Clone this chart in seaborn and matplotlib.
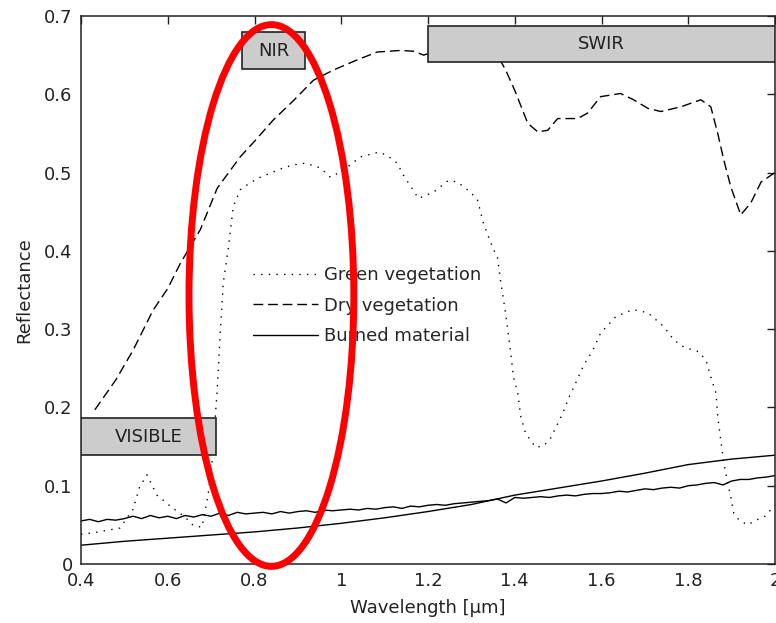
import numpy as np
import pandas as pd
import matplotlib
matplotlib.use("Agg")
import matplotlib.pyplot as plt
from matplotlib.patches import Rectangle, Ellipse
import seaborn as sns

# ---- spectral data (wavelength in micrometres, reflectance 0-1) ----
green_wl = [0.40, 0.43, 0.46, 0.49, 0.52, 0.535, 0.552, 0.575, 0.61, 0.64, 0.659, 0.679,
            0.693, 0.702, 0.714, 0.721, 0.728, 0.74, 0.751, 0.767, 0.79, 0.813, 0.84,
            0.866, 0.892, 0.917, 0.952, 0.975, 1.005, 1.044, 1.086, 1.106, 1.129, 1.143,
            1.178, 1.213, 1.247, 1.268, 1.298, 1.314, 1.328, 1.349, 1.36, 1.367, 1.379,
            1.39, 1.397, 1.407, 1.414, 1.425, 1.448, 1.467, 1.483, 1.511, 1.525, 1.541,
            1.559, 1.58, 1.598, 1.633, 1.672, 1.707, 1.744, 1.767, 1.79, 1.825, 1.841,
            1.852, 1.864, 1.868, 1.875, 1.882, 1.891, 1.898, 1.905, 1.917, 1.937, 1.956,
            1.975, 2.00]
green_refl = [0.038, 0.040, 0.043, 0.046, 0.070, 0.098, 0.114, 0.088, 0.072, 0.060, 0.049,
              0.047, 0.088, 0.129, 0.222, 0.295, 0.359, 0.405, 0.456, 0.478, 0.487, 0.494,
              0.500, 0.506, 0.510, 0.512, 0.506, 0.494, 0.503, 0.520, 0.526, 0.522, 0.512,
              0.497, 0.467, 0.475, 0.490, 0.488, 0.475, 0.465, 0.435, 0.404, 0.392, 0.363,
              0.320, 0.273, 0.239, 0.218, 0.188, 0.167, 0.149, 0.151, 0.161, 0.193, 0.213,
              0.232, 0.254, 0.273, 0.295, 0.316, 0.325, 0.321, 0.303, 0.286, 0.277, 0.271,
              0.260, 0.239, 0.218, 0.188, 0.158, 0.129, 0.103, 0.086, 0.065, 0.056, 0.050,
              0.056, 0.060, 0.075]

dry_wl = [0.432, 0.48, 0.52, 0.566, 0.60, 0.629, 0.675, 0.714, 0.767, 0.80, 0.843, 0.89,
          0.936, 0.982, 1.037, 1.083, 1.137, 1.167, 1.19, 1.25, 1.32, 1.36, 1.379, 1.40,
          1.43, 1.453, 1.476, 1.499, 1.545, 1.568, 1.598, 1.644, 1.674, 1.707, 1.737,
          1.783, 1.829, 1.852, 1.868, 1.882, 1.898, 1.921, 1.944, 1.968, 2.00]
dry_refl = [0.197, 0.235, 0.273, 0.324, 0.352, 0.384, 0.427, 0.480, 0.520, 0.540, 0.567,
            0.592, 0.618, 0.631, 0.644, 0.654, 0.656, 0.655, 0.650, 0.662, 0.662, 0.650,
            0.631, 0.605, 0.563, 0.552, 0.554, 0.569, 0.569, 0.576, 0.597, 0.601, 0.593,
            0.582, 0.578, 0.584, 0.593, 0.584, 0.550, 0.516, 0.482, 0.446, 0.461, 0.488,
            0.500]

burned_wl = [0.40, 0.42, 0.44, 0.46, 0.48, 0.50, 0.52, 0.54, 0.56, 0.58, 0.60, 0.62, 0.64,
             0.66, 0.68, 0.70, 0.72, 0.74, 0.76, 0.78, 0.80, 0.82, 0.84, 0.86, 0.88, 0.90,
             0.92, 0.94, 0.96, 0.98, 1.00, 1.02, 1.04, 1.06, 1.08, 1.10, 1.12, 1.14, 1.16,
             1.18, 1.20, 1.22, 1.24, 1.26, 1.28, 1.30, 1.32, 1.34, 1.36, 1.38, 1.40, 1.42,
             1.44, 1.46, 1.48, 1.50, 1.52, 1.54, 1.56, 1.58, 1.60, 1.62, 1.64, 1.66, 1.68,
             1.70, 1.72, 1.74, 1.76, 1.78, 1.80, 1.82, 1.84, 1.86, 1.88, 1.90, 1.92, 1.94,
             1.96, 1.98, 2.00]
burned_refl = [0.055, 0.057, 0.054, 0.057, 0.056, 0.058, 0.061, 0.058, 0.062, 0.059, 0.061,
               0.058, 0.062, 0.060, 0.063, 0.061, 0.065, 0.062, 0.066, 0.064, 0.065, 0.066,
               0.064, 0.067, 0.065, 0.067, 0.068, 0.066, 0.069, 0.068, 0.069, 0.070, 0.069,
               0.071, 0.070, 0.072, 0.073, 0.071, 0.074, 0.073, 0.075, 0.076, 0.075, 0.077,
               0.078, 0.079, 0.080, 0.081, 0.083, 0.078, 0.085, 0.084, 0.085, 0.086, 0.085,
               0.087, 0.088, 0.087, 0.089, 0.090, 0.090, 0.091, 0.093, 0.092, 0.094, 0.096,
               0.095, 0.097, 0.098, 0.097, 0.100, 0.101, 0.103, 0.104, 0.101, 0.106, 0.108,
               0.108, 0.110, 0.111, 0.113]

char_wl = [0.40, 0.50, 0.60, 0.70, 0.80, 0.90, 1.00, 1.10, 1.20, 1.30, 1.40, 1.50, 1.60,
           1.70, 1.80, 1.90, 2.00]
char_refl = [0.024, 0.029, 0.033, 0.037, 0.041, 0.046, 0.052, 0.059, 0.067, 0.076, 0.088,
             0.097, 0.106, 0.116, 0.127, 0.134, 0.139]

series_labels = ["Green vegetation", "Dry vegetation", "Burned material"]

# spectral regions
band_names = ["VISIBLE", "NIR", "SWIR"]
band_x = [(0.40, 0.712), (0.772, 0.917), (1.201, 2.00)]
band_y = [(0.139, 0.186), (0.632, 0.679), (0.641, 0.687)]

x_ticks = [0.4, 0.6, 0.8, 1.0, 1.2, 1.4, 1.6, 1.8, 2.0]
x_ticklabels = ["0.4", "0.6", "0.8", "1", "1.2", "1.4", "1.6", "1.8", "2"]
y_ticks = [0, 0.1, 0.2, 0.3, 0.4, 0.5, 0.6, 0.7]
y_ticklabels = ["0", "0.1", "0.2", "0.3", "0.4", "0.5", "0.6", "0.7"]

# ---- styling ----
sns.set_theme(style="white")
plt.rcParams["font.family"] = ["DejaVu Sans"]
plt.rcParams.update({
    "xtick.direction": "in", "ytick.direction": "in",
    "xtick.top": True, "ytick.right": True,
    "xtick.major.size": 5.5, "ytick.major.size": 5.5,
    "xtick.major.width": 1.0, "ytick.major.width": 1.0,
    "axes.edgecolor": "#222222", "axes.linewidth": 1.1,
})

fig = plt.figure(figsize=(7.76, 6.23), dpi=100)
ax = fig.add_axes([81 / 776, 59 / 623, 694 / 776, 548 / 623])

fs = 13
common = dict(ax=ax, color="black", estimator=None, sort=False, linewidth=1.0)

g = pd.DataFrame({"wl": green_wl, "refl": green_refl})
d = pd.DataFrame({"wl": dry_wl, "refl": dry_refl})
b = pd.DataFrame({"wl": burned_wl, "refl": burned_refl})
c = pd.DataFrame({"wl": char_wl, "refl": char_refl})

sns.lineplot(data=g, x="wl", y="refl", linestyle=(0, (1, 4.5)), label=series_labels[0], **common)
sns.lineplot(data=d, x="wl", y="refl", linestyle=(0, (7, 3.5)), label=series_labels[1], **common)
sns.lineplot(data=b, x="wl", y="refl", linestyle="-", label=series_labels[2], **common)
sns.lineplot(data=c, x="wl", y="refl", linestyle="-", **common)

# region boxes
for name, (x0, x1), (y0, y1) in zip(band_names, band_x, band_y):
    ax.add_patch(Rectangle((x0, y0), x1 - x0, y1 - y0, facecolor="#cccccc",
                           edgecolor="#222222", linewidth=1.2, zorder=5))
    ax.text((x0 + x1) / 2, (y0 + y1) / 2, name, ha="center", va="center",
            fontsize=fs, color="#222222", zorder=6)

# highlight of the near-infrared plateau
ax.add_patch(Ellipse((0.839, 0.343), 0.380, 0.692, fill=False, edgecolor="#ff0000",
                     linewidth=5, zorder=10, clip_on=False))

ax.set_xlim(0.4, 2.0)
ax.set_ylim(0, 0.7)
ax.set_xticks(x_ticks)
ax.set_xticklabels(x_ticklabels, fontsize=fs, color="#222222")
ax.set_yticks(y_ticks)
ax.set_yticklabels(y_ticklabels, fontsize=fs, color="#222222")
ax.tick_params(axis="x", pad=6, colors="#222222")
ax.tick_params(axis="y", pad=6, colors="#222222")
ax.set_xlabel("Wavelength [\u00b5m]", fontsize=fs, color="#222222", labelpad=6)
ax.set_ylabel("Reflectance", fontsize=fs, color="#222222", labelpad=8)

ax.legend(loc="upper left", bbox_to_anchor=(0.248, 0.543), frameon=False,
          fontsize=fs, handlelength=3.6, handletextpad=0.3, labelspacing=0.68,
          borderpad=0, borderaxespad=0)

fig.savefig("out.png", dpi=100)
